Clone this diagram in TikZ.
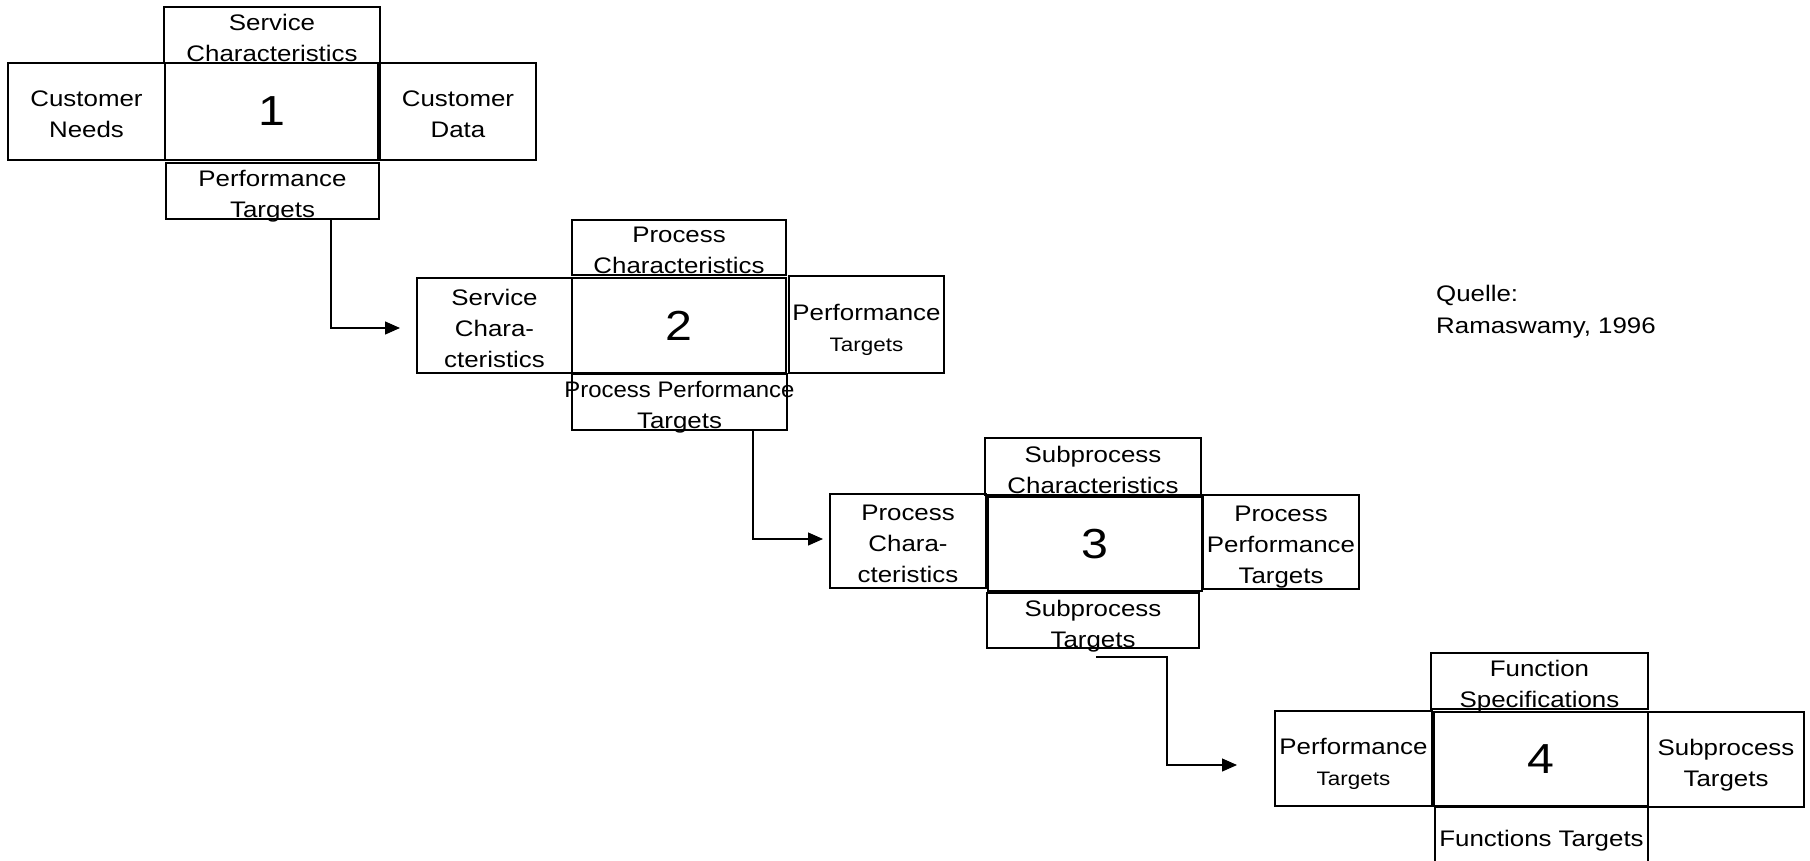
\documentclass[tikz,border=0pt]{standalone}
\usepackage{fontspec}
\usepackage{graphicx}
\setmainfont{Liberation Sans}[FakeStretch=1.15]
\usetikzlibrary{arrows.meta,calc}
\begin{document}
\begin{tikzpicture}[x=1pt,y=-1pt,
  cell/.style={draw=black,line width=1.3pt,rectangle,inner sep=0pt,outer sep=0pt},
  core/.style={cell,line width=2.4pt},
  txt/.style={align=center,inner sep=0pt,text depth=0pt,yshift=-3pt,
    font=\fontsize{22.5}{31}\selectfont},
  num/.style={inner sep=0pt,font=\fontsize{42}{42}\selectfont},
  conn/.style={line width=1.3pt,-{Triangle[length=15pt,width=13pt]}},
]
\useasboundingbox (0,0) rectangle (1810,860);
\clip (0,0) rectangle (1810,860);
\fill[white] (0,0) rectangle (1810,860);

% ---- stage 1
\node[cell,minimum width=216,minimum height=56] (c1t) at (272,35) {};
\node[cell,minimum width=157,minimum height=97] (c1l) at (86.5,111.5) {};
\node[cell,minimum width=156,minimum height=97] (c1r) at (458,111.5) {};
\node[cell,minimum width=213,minimum height=56] (c1b) at (272.5,191) {};
\node[core,minimum width=213,minimum height=97] (c1c) at (271.5,111.5) {};
\node[txt] (t1t) at (c1t) {Service\\Characteristics};
\node[txt] (t1l) at (c1l) {Customer\\Needs};
\node[txt] (t1r) at (c1r) {Customer\\Data};
\node[txt] (t1b) at (c1b) {Performance\\Targets};
\node[num] (n1) at (c1c) {1};

% ---- stage 2
\node[cell,minimum width=214,minimum height=55] (c2t) at (679,247.5) {};
\node[cell,minimum width=155,minimum height=95] (c2l) at (494.5,325.5) {};
\node[cell,minimum width=155,minimum height=97] (c2r) at (866.5,324.5) {};
\node[cell,minimum width=215,minimum height=56] (c2b) at (679.5,402) {};
\node[core,minimum width=214,minimum height=95] (c2c) at (679,325.5) {};
\node[txt] (t2t) at (c2t) {Process\\Characteristics};
\node[txt] (t2l) at (c2l) {Service\\Chara-\\cteristics};
\node[txt] (t2r) at (c2r) {Performance\\{\fontsize{19.5}{31}\selectfont Targets}};
\node[txt] (t2b) at (c2b) {\scalebox{0.925}[1]{Process Performance}\\Targets};
\node[num] (n2) at (c2c) {2};

% ---- stage 3
\node[cell,minimum width=216,minimum height=57] (c3t) at (1093,466.5) {};
\node[cell,minimum width=156,minimum height=94] (c3l) at (908,541) {};
\node[cell,minimum width=156,minimum height=94] (c3r) at (1281,542) {};
\node[cell,minimum width=212,minimum height=55] (c3b) at (1093,620.5) {};
\node[core,minimum width=214,minimum height=94] (c3c) at (1095,544) {};
\node[txt] (t3t) at (c3t) {Subprocess\\Characteristics};
\node[txt] (t3l) at (c3l) {Process\\Chara-\\cteristics};
\node[txt] (t3r) at (c3r) {Process\\Performance\\Targets};
\node[txt] (t3b) at (c3b) {Subprocess\\Targets};
\node[num] (n3) at (c3c) {3};

% ---- stage 4
\node[cell,minimum width=217,minimum height=56] (c4t) at (1539.5,681) {};
\node[cell,minimum width=157,minimum height=95] (c4l) at (1353.5,758.5) {};
\node[cell,minimum width=156,minimum height=95] (c4r) at (1726,759.5) {};
\node[cell,minimum width=213,minimum height=56] (c4b) at (1541.5,835) {};
\node[core,minimum width=214,minimum height=94] (c4c) at (1541,759) {};
\node[txt] (t4t) at (c4t) {Function\\Specifications};
\node[txt] (t4l) at (c4l) {Performance\\{\fontsize{19.5}{31}\selectfont Targets}};
\node[txt] (t4r) at (c4r) {Subprocess\\Targets};
\node[txt] (t4b) at (c4b) {Functions Targets};
\node[num] (n4) at (c4c) {4};

% ---- links between the stages
\coordinate (s1) at ($(c1b.south)+(58.5,0)$);
\coordinate (e1) at ($(c2l.west)+(-17,2.5)$);
\draw[conn] (s1) |- (e1);
\coordinate (s2) at ($(c2b.south)+(73.5,0)$);
\coordinate (e2) at ($(c3l.west)+(-7,-2)$);
\draw[conn] (s2) |- (e2);
\coordinate (s3) at ($(c3b.south)+(3,9)$);
\coordinate (e3) at ($(c4l.west)+(-38,6.5)$);
\draw[conn] (s3) -- ++(71,0) |- (e3);

% ---- source note
\node[anchor=north west,align=left,inner sep=0pt,
  font=\fontsize{22.5}{32}\selectfont] (src) at (1436,285) {Quelle:\\Ramaswamy, 1996};
\end{tikzpicture}
\end{document}
